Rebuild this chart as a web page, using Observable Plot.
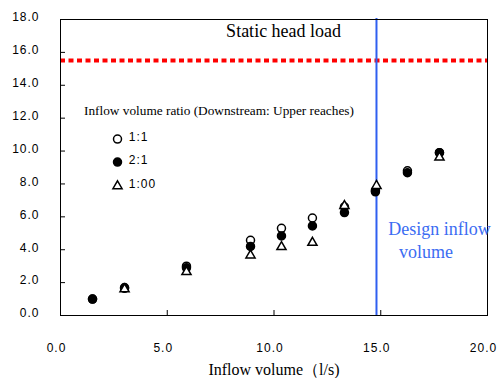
<!DOCTYPE html>
<html><head><meta charset="utf-8">
<script src="https://cdn.jsdelivr.net/npm/d3@7"></script>
<script src="https://cdn.jsdelivr.net/npm/@observablehq/plot@0.6"></script>
<style>
body{margin:0;background:#fff}
svg text{font-family:"Liberation Sans",Arial,sans-serif}
.sp text{letter-spacing:1px}
.serif text{font-family:"Liberation Serif","Times New Roman",serif}
</style>
</head><body>
<div id="chart"></div>
<script>
// Inflow volume (l/s)
const flowA = [1.5, 3.0, 5.9, 8.9, 10.35, 11.8, 13.3, 14.75, 16.25, 17.75]; // 1:1
const headA = [1.0, 1.7, 3.0, 4.57, 5.3, 5.93, 6.6, 7.6, 8.8, 9.9];
const flowB = [1.5, 3.0, 5.9, 8.9, 10.35, 11.8, 13.3, 14.75, 16.25, 17.75]; // 2:1
const headB = [1.0, 1.65, 2.9, 4.2, 4.84, 5.45, 6.26, 7.52, 8.68, 9.9];
const flowC = [3.0, 5.9, 8.9, 10.35, 11.8, 13.3, 14.8, 17.75]; // 1:00
const headC = [1.6, 2.65, 3.66, 4.17, 4.43, 6.67, 7.89, 9.61];
const seriesNames = ["1:1", "2:1", "1:00"];
const staticHead = 15.5;
const designInflow = 14.8;
const xTicks = [0, 5, 10, 15, 20];
const yTicks = [0, 2, 4, 6, 8, 10, 12, 14, 16, 18];
// annotation anchors (data units)
const legendX = [2.67], legendLabelX = [3.2], legendY = [10.73, 9.33, 7.87];
const legendTitle = {x: 1.1, y: 12.44, text: "Inflow volume ratio (Downstream: Upper reaches)"};
const titleNote = {x: 10.45, y: 17.3, text: "Static head load"};
const designNote = [{x: 15.35, y: 5.25, text: "Design inflow"}, {x: 15.85, y: 3.85, text: "volume"}];

const A = flowA.map((x, i) => ({x, y: headA[i]}));
const B = flowB.map((x, i) => ({x, y: headB[i]}));
const C = flowC.map((x, i) => ({x, y: headC[i]}));
const legend = seriesNames.map((s, i) => ({s, x: legendX[0], lx: legendLabelX[0], y: legendY[i]}));
const styles = [
  {symbol: "circle", fill: "white", stroke: "black", r: 4},
  {symbol: "circle", fill: "black", stroke: "black", r: 4},
  {symbol: "triangle", fill: "white", stroke: "black", r: 3.4}
];

const chart = Plot.plot({
  width: 504, height: 378,
  marginLeft: 60, marginRight: 17, marginTop: 19, marginBottom: 63,
  x: {domain: [0, 20]},
  y: {domain: [0, 18]},
  marks: [
    Plot.axisX({ticks: xTicks, tickFormat: d => d.toFixed(1), tickSize: 0, tickPadding: 28, dx: -4, fontSize: 12, className: "sp", label: null}),
    Plot.axisY({ticks: yTicks, tickFormat: d => d.toFixed(1), tickSize: 0, tickPadding: 21, dy: -2, fontSize: 12, className: "sp", label: null}),
    Plot.ruleX(xTicks, {x: d => d, y1: 0, y2: 0, insetTop: -5, stroke: "black"}),
    Plot.ruleY(yTicks, {y: d => d, x1: 0, x2: 0, insetRight: -5, stroke: "black"}),
    Plot.ruleY([staticHead], {stroke: "#ff0000", strokeWidth: 4, strokeDasharray: "5,3.5"}),
    Plot.ruleX([designInflow], {stroke: "#2f5ff0", strokeWidth: 2, insetTop: -1}),
    Plot.dot(A, {x: "x", y: "y", ...styles[0]}),
    Plot.dot(B, {x: "x", y: "y", ...styles[1]}),
    Plot.dot(C, {x: "x", y: "y", ...styles[2]}),
    Plot.frame({stroke: "black"}),
    Plot.text([titleNote], {x: "x", y: "y", text: "text", fontSize: 18, className: "serif", fill: "black"}),
    Plot.text([legendTitle], {x: "x", y: "y", text: "text", fontSize: 13.3, textAnchor: "start", className: "serif", fill: "black"}),
    ...legend.map((d, i) => Plot.dot([d], {x: "x", y: "y", ...styles[i]})),
    Plot.text(legend, {x: "lx", y: "y", text: "s", textAnchor: "start", fontSize: 12, className: "sp", fill: "black", dy: -2}),
    Plot.text(designNote, {x: "x", y: "y", text: "text", textAnchor: "start", fontSize: 18, className: "serif", fill: "#3b6cf2"}),
    Plot.text([{t: "Inflow volume（l/s)"}], {frameAnchor: "bottom", text: "t", dy: 59, fontSize: 16, className: "serif", fill: "black"})
  ]
});
document.getElementById("chart").appendChild(chart);
</script>
</body></html>
